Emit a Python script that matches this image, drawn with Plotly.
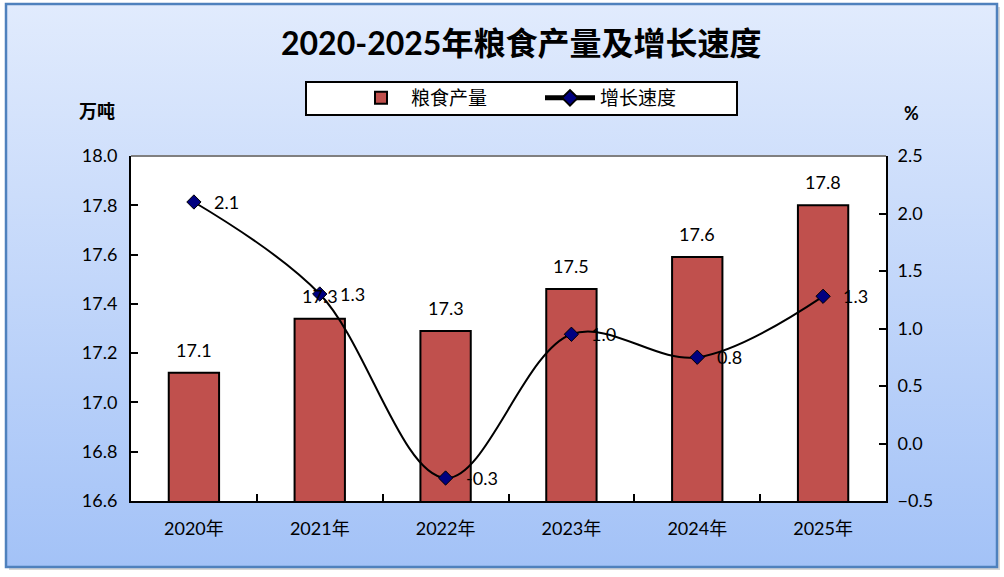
import base64
import plotly.graph_objects as go

# ---- data ----
years = ["2020年", "2021年", "2022年", "2023年", "2024年", "2025年"]
output = [17.12, 17.34, 17.29, 17.46, 17.59, 17.80]
output_labels = ["17.1", "17.3", "17.3", "17.5", "17.6", "17.8"]
growth = [2.1, 1.3, -0.3, 0.95, 0.75, 1.28]
growth_labels = ["2.1", "1.3", "-0.3", "1.0", "0.8", "1.3"]
y1_ticks = [16.6, 16.8, 17.0, 17.2, 17.4, 17.6, 17.8, 18.0]
y2_ticks = [-0.5, 0.0, 0.5, 1.0, 1.5, 2.0, 2.5]

W, H = 1004, 577
L, R, T, B = 131, 886, 156, 501
PW, PH = R - L, B - T

def px(xp):
    return (xp - L) / PW

def py(yp):
    return (B - yp) / PH

FONT = "Lato, 'Noto Sans CJK SC', sans-serif"

svg = f'''<svg xmlns="http://www.w3.org/2000/svg" width="{W}" height="{H}" viewBox="0 0 {W} {H}">
<defs><linearGradient id="g" x1="0" y1="0" x2="0" y2="1">
<stop offset="0" stop-color="#E1EBFD"/><stop offset="1" stop-color="#A3C2F7"/></linearGradient></defs>
<rect x="0" y="0" width="{W}" height="{H}" fill="#FFFFFF"/>
<rect x="9" y="7" width="991" height="563" fill="#B0B0B0" opacity="0.5"/>
<rect x="6" y="4" width="991" height="563" fill="url(#g)" stroke="#4F81BD" stroke-width="2.5"/>
</svg>'''
bg_uri = "data:image/svg+xml;base64," + base64.b64encode(svg.encode()).decode()

fig = go.Figure()

fig.add_trace(go.Bar(
    x=years, y=output, name="粮食产量",
    marker=dict(color="#C0504D", line=dict(color="black", width=2)),
    width=0.4, yaxis="y",
))

fig.add_trace(go.Scatter(
    x=years, y=growth, name="增长速度", yaxis="y2",
    mode="lines+markers",
    line=dict(color="black", width=2, shape="spline", smoothing=1.0),
    marker=dict(symbol="diamond", size=11, color="#000080",
                line=dict(color="black", width=1)),
))

annotations = []
for x, v, t in zip(years, output, output_labels):
    annotations.append(dict(x=x, y=v, xref="x", yref="y", text=t,
                            showarrow=False, yanchor="middle", yshift=23,
                            font=dict(size=18, color="black", family=FONT)))
for x, v, t in zip(years, growth, growth_labels):
    annotations.append(dict(x=x, y=v, xref="x", yref="y2", text=t,
                            showarrow=False, xanchor="left", yanchor="middle",
                            xshift=18,
                            font=dict(size=18, color="black", family=FONT)))

annotations += [
    dict(x=px(521), y=py(43), xref="paper", yref="paper",
         text="<b>2020-2025年粮食产量及增长速度</b>", showarrow=False,
         xanchor="center", yanchor="middle",
         font=dict(size=32, color="black", family=FONT)),
    dict(x=px(97), y=py(111), xref="paper", yref="paper", text="<b>万吨</b>",
         showarrow=False, xanchor="center", yanchor="middle",
         font=dict(size=18, color="black", family=FONT)),
    dict(x=px(911), y=py(113), xref="paper", yref="paper", text="<b>%</b>",
         showarrow=False, xanchor="center", yanchor="middle",
         font=dict(size=18, color="black", family=FONT)),
]

fig.update_layout(
    width=W, height=H,
    margin=dict(l=L, r=W - R, t=T, b=H - B, pad=0),
    paper_bgcolor="white", plot_bgcolor="white",
    font=dict(family=FONT, size=18, color="black"),
    showlegend=True,
    legend=dict(orientation="h", x=px(351), y=py(98), xanchor="left",
                yanchor="middle", bgcolor="rgba(0,0,0,0)",
                borderwidth=0, font=dict(size=19, family=FONT),
                itemwidth=50, entrywidth=124, itemsizing="constant"),
    xaxis=dict(showline=True, linecolor="black", linewidth=2, ticks="inside",
               tickson="boundaries", ticklen=7, tickcolor="black", tickwidth=2,
               showgrid=False, tickfont=dict(size=18), ticklabelstandoff=10),
    yaxis=dict(range=[16.6, 18.0], tickvals=y1_ticks, tickformat=".1f",
               showline=True, linecolor="black", linewidth=2, ticks="inside",
               ticklen=7, tickcolor="black", tickwidth=2, showgrid=False,
               zeroline=False, tickfont=dict(size=18), ticklabelstandoff=8),
    yaxis2=dict(range=[-0.5, 2.5], tickvals=y2_ticks, tickformat=".1f",
                overlaying="y", side="right", showline=True, linecolor="black",
                linewidth=2, ticks="inside", ticklen=7, tickcolor="black",
                tickwidth=2, showgrid=False, zeroline=False,
                tickfont=dict(size=18), ticklabelstandoff=6),
    images=[dict(source=bg_uri, xref="paper", yref="paper",
                 x=px(0), y=py(0), sizex=W / PW, sizey=H / PH,
                 xanchor="left", yanchor="top", sizing="stretch",
                 layer="below")],
    shapes=[
        dict(type="rect", xref="paper", yref="paper", x0=0, x1=1, y0=0, y1=1,
             fillcolor="white", line=dict(width=0), layer="below"),
        dict(type="line", xref="paper", yref="paper", x0=0, x1=1, y0=1, y1=1,
             line=dict(color="#808080", width=2), layer="above"),
        # legend frame
        dict(type="rect", xref="paper", yref="paper",
             x0=px(306), x1=px(737), y0=py(115), y1=py(82),
             fillcolor="white", line=dict(color="black", width=2),
             layer="above"),
    ],
    annotations=annotations,
    bargap=0.6,
)

fig.write_html("out.html", config={"displayModeBar": False},
               post_script="document.body.style.margin='0px';")
